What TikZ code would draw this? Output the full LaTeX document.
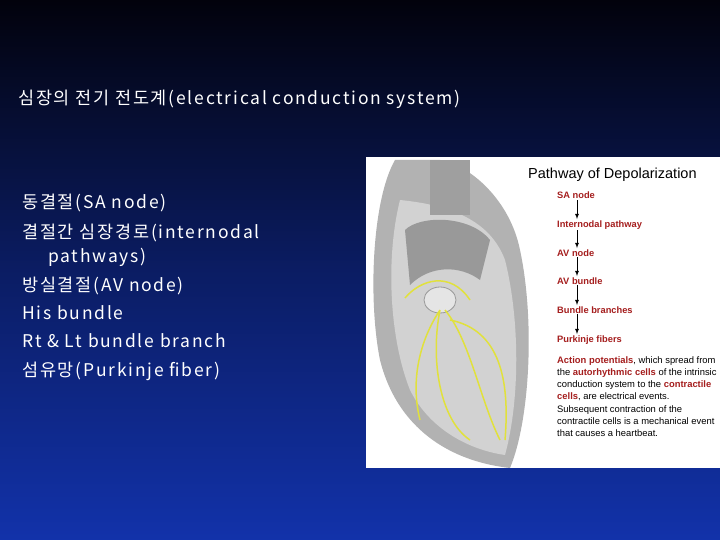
\documentclass[tikz,border=0pt]{standalone}
\usepackage{fontspec}
\setmainfont{Liberation Sans}
\newfontfamily\kr[LetterSpace=10]{Noto Sans CJK KR}
\definecolor{bgtop}{RGB}{2,2,12}
\definecolor{bgbot}{RGB}{18,50,170}
\definecolor{dred}{RGB}{165,30,30}
\definecolor{nerve}{RGB}{225,225,60}
\begin{document}
\begin{tikzpicture}[x=1pt,y=-1pt,
  lt/.style={anchor=base west,text=white,font=\kr\fontsize{17.5}{19}\selectfont,inner sep=0},
  rt/.style={anchor=base west,text=dred,font=\bfseries\fontsize{9.3}{11}\selectfont,inner sep=0},
  arr/.style={-latex,line width=0.8pt,black,shorten >=1pt,shorten <=1pt}]
\shade[top color=bgtop,bottom color=bgbot,middle color=bgbot!55!bgtop] (0,0) rectangle (720,540);
\useasboundingbox (0,0) rectangle (720,540);
\node[lt] (title) at (18,105) {심장의 전기 전도계(electrical conduction system)};
\node[lt] (l1) at (22,209) {동결절(SA node)};
\node[lt] (l2) at (22,238) {결절간 심장경로(internodal};
\node[lt] (l2b) at (48,262) {pathways)};
\node[lt] (l3) at (22,291) {방실결절(AV node)};
\node[lt] (l4) at (22,319) {His bundle};
\node[lt] (l5) at (22,347) {Rt \& Lt bundle branch};
\node[lt] (l6) at (22,376) {섬유망(Purkinje fiber)};
% panel
\fill[white] (366,157) rectangle (720,468);
% heart (schematic)
\fill[gray!60] (395,160) .. controls (372,200) and (368,300) .. (380,360) .. controls (395,420) and (440,460) .. (510,468) .. controls (530,420) and (535,320) .. (520,250) .. controls (510,200) and (470,165) .. (440,160) -- cycle;
\fill[gray!35] (400,200) .. controls (385,260) and (390,340) .. (410,390) .. controls (430,430) and (470,450) .. (505,455) .. controls (520,400) and (520,320) .. (505,260) .. controls (490,220) and (450,205) .. (400,200) -- cycle;
\fill[gray!75] (430,160) rectangle (470,215);
\fill[gray!80] (405,230) .. controls (420,215) and (470,215) .. (490,240) -- (480,280) .. controls (460,265) and (430,265) .. (410,285) -- cycle;
\fill[gray!20] (440,300) ellipse (16 and 13);
\draw[gray!80,line width=0.8pt] (440,300) ellipse (16 and 13);
\draw[nerve,line width=1.5pt] (405,298) .. controls (420,280) and (450,270) .. (470,300)
  (440,310) .. controls (430,360) and (440,420) .. (470,440)
  (445,310) .. controls (470,340) and (480,400) .. (500,440)
  (440,310) .. controls (420,340) and (410,380) .. (420,420)
  (450,320) .. controls (500,330) and (510,380) .. (505,440);
% right text
\node[anchor=base west,font=\fontsize{14.5}{16}\selectfont,inner sep=0] (pt) at (528,179) {Pathway of Depolarization};
\node[rt] (a1) at (557,199) {SA node};
\node[rt] (a2) at (557,227) {Internodal pathway};
\node[rt] (a3) at (557,256) {AV node};
\node[rt] (a4) at (557,284) {AV bundle};
\node[rt] (a5) at (557,313) {Bundle branches};
\node[rt] (a6) at (557,342) {Purkinje fibers};
\foreach \u/\v in {a1/a2,a2/a3,a3/a4,a4/a5,a5/a6}
  \draw[arr] ([xshift=20pt]\u.south west) -- ([xshift=20pt]\v.north west);
\node[anchor=north west,align=left,inner sep=0,font=\fontsize{9.4}{12.3}\selectfont] (para) at (557,356)
{\textcolor{dred}{\bfseries Action potentials}, which spread from\\
the \textcolor{dred}{\bfseries autorhythmic cells} of the intrinsic\\
conduction system to the \textcolor{dred}{\bfseries contractile}\\
\textcolor{dred}{\bfseries cells}, are electrical events.\\
Subsequent contraction of the\\
contractile cells is a mechanical event\\
that causes a heartbeat.};
\end{tikzpicture}
\end{document}
